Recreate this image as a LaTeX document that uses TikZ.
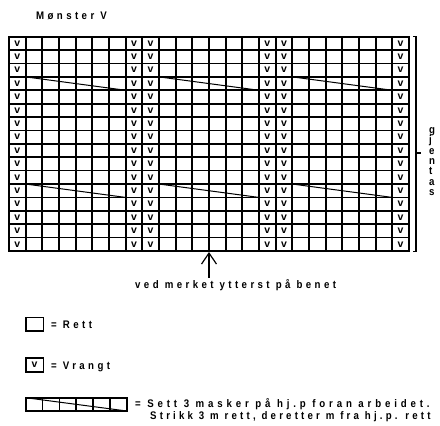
\documentclass[tikz,border=0pt]{standalone}
\usepackage{fontspec}
\usetikzlibrary{arrows.meta}
\newfontfamily\chartfont[FakeStretch=0.88,LetterSpace=31]{Liberation Sans}
\newfontfamily\chartfontwide[FakeStretch=0.88,LetterSpace=35]{Liberation Sans}
\newfontfamily\chartfontnarrow[FakeStretch=0.88,LetterSpace=29]{Liberation Sans}
\newfontfamily\markfont{Liberation Sans}
\tikzset{
  txt/.style={font=\chartfont\bfseries\fontsize{11}{13}\selectfont, inner sep=0pt, anchor=base west},
  vmark/.style={font=\markfont\bfseries\fontsize{10.5}{12}\selectfont, inner sep=0pt},
  gridline/.style={line width=1.7pt, line cap=rect},
  legendline/.style={line width=1.6pt},
  cableline/.style={line width=1pt},
  bracketline/.style={line width=1.1pt},
}
\begin{document}
\begin{tikzpicture}[x=1pt,y=-1pt]
\useasboundingbox (0,0) rectangle (440,426);
% title
\node[txt] (title) at (36,19.3) {Mønster V};
% grid
\foreach \i in {0,...,24}
  \draw[gridline] ({9+\i*16.6667},36.7) -- ({9+\i*16.6667},251);
\foreach \j in {0,...,16}
  \draw[gridline] (9,{36.7+\j*13.3938}) -- (409,{36.7+\j*13.3938});
% purl marks
\foreach \r in {1,...,16}
  \foreach \c in {1,8,9,16,17,24}
    \node[vmark] (v-\r-\c) at ({9+(\c-0.5)*16.6667},{36.7+(\r-0.5)*13.3938}) {v};
% cables
\foreach \r in {4,12}
  \foreach \c in {2,10,18}
    \draw[cableline] ({9+(\c-1)*16.6667},{36.7+(\r-1)*13.3938}) -- ({9+(\c+5)*16.6667},{36.7+\r*13.3938});
% bracket
\draw[bracketline] (413,36.5) -- (416,36.5) -- (416,251.5) -- (413,251.5);
\draw[bracketline] (416,153) -- (421,153);
\node[font=\chartfont\bfseries\fontsize{11}{13}\selectfont, inner sep=0pt, anchor=base west] (gjentas) at (429,133.3)
  {\vtop{\baselineskip=10.4pt\lineskiplimit=-100pt\hbox{g}\hbox{j}\hbox{e}\hbox{n}\hbox{t}\hbox{a}\hbox{s}}};
% arrow
\coordinate (markbot) at (209,252);
\coordinate (arrowfoot) at (209,277.5);
\draw[line width=1.2pt, -{Straight Barb[length=11pt,width=15pt,line width=1.2pt]}] (arrowfoot) -- (markbot);
\node[txt] (mark) at (135,288.5) {ved merket ytterst på benet};
% legend
\draw[legendline] (25.7,317.3) rectangle (43.3,331);
\node[txt] (rett) at (51,328.4) {= Rett};
\draw[legendline] (25.7,358) rectangle (43.3,371.7);
\node[vmark] (legv) at (34.5,364.9) {v};
\node[txt] (vrangt) at (51,369) {= Vrangt};
\draw[legendline] (25.7,397.7) rectangle (126.7,411);
\foreach \i in {1,...,5}
  \draw[legendline] ({25.7+\i*16.8333},397.7) -- ({25.7+\i*16.8333},411);
\draw[cableline] (25.7,397.7) -- (126.7,411);
\node[txt, font=\chartfontwide\bfseries\fontsize{11}{13}\selectfont] (cable1) at (135,407.8) {= Sett 3 masker på hj.p foran arbeidet.};
\node[txt, font=\chartfontnarrow\bfseries\fontsize{11}{13}\selectfont] (cable2) at (150,419.3) {Strikk 3 m rett, deretter m fra hj.p. rett};
\end{tikzpicture}
\end{document}
